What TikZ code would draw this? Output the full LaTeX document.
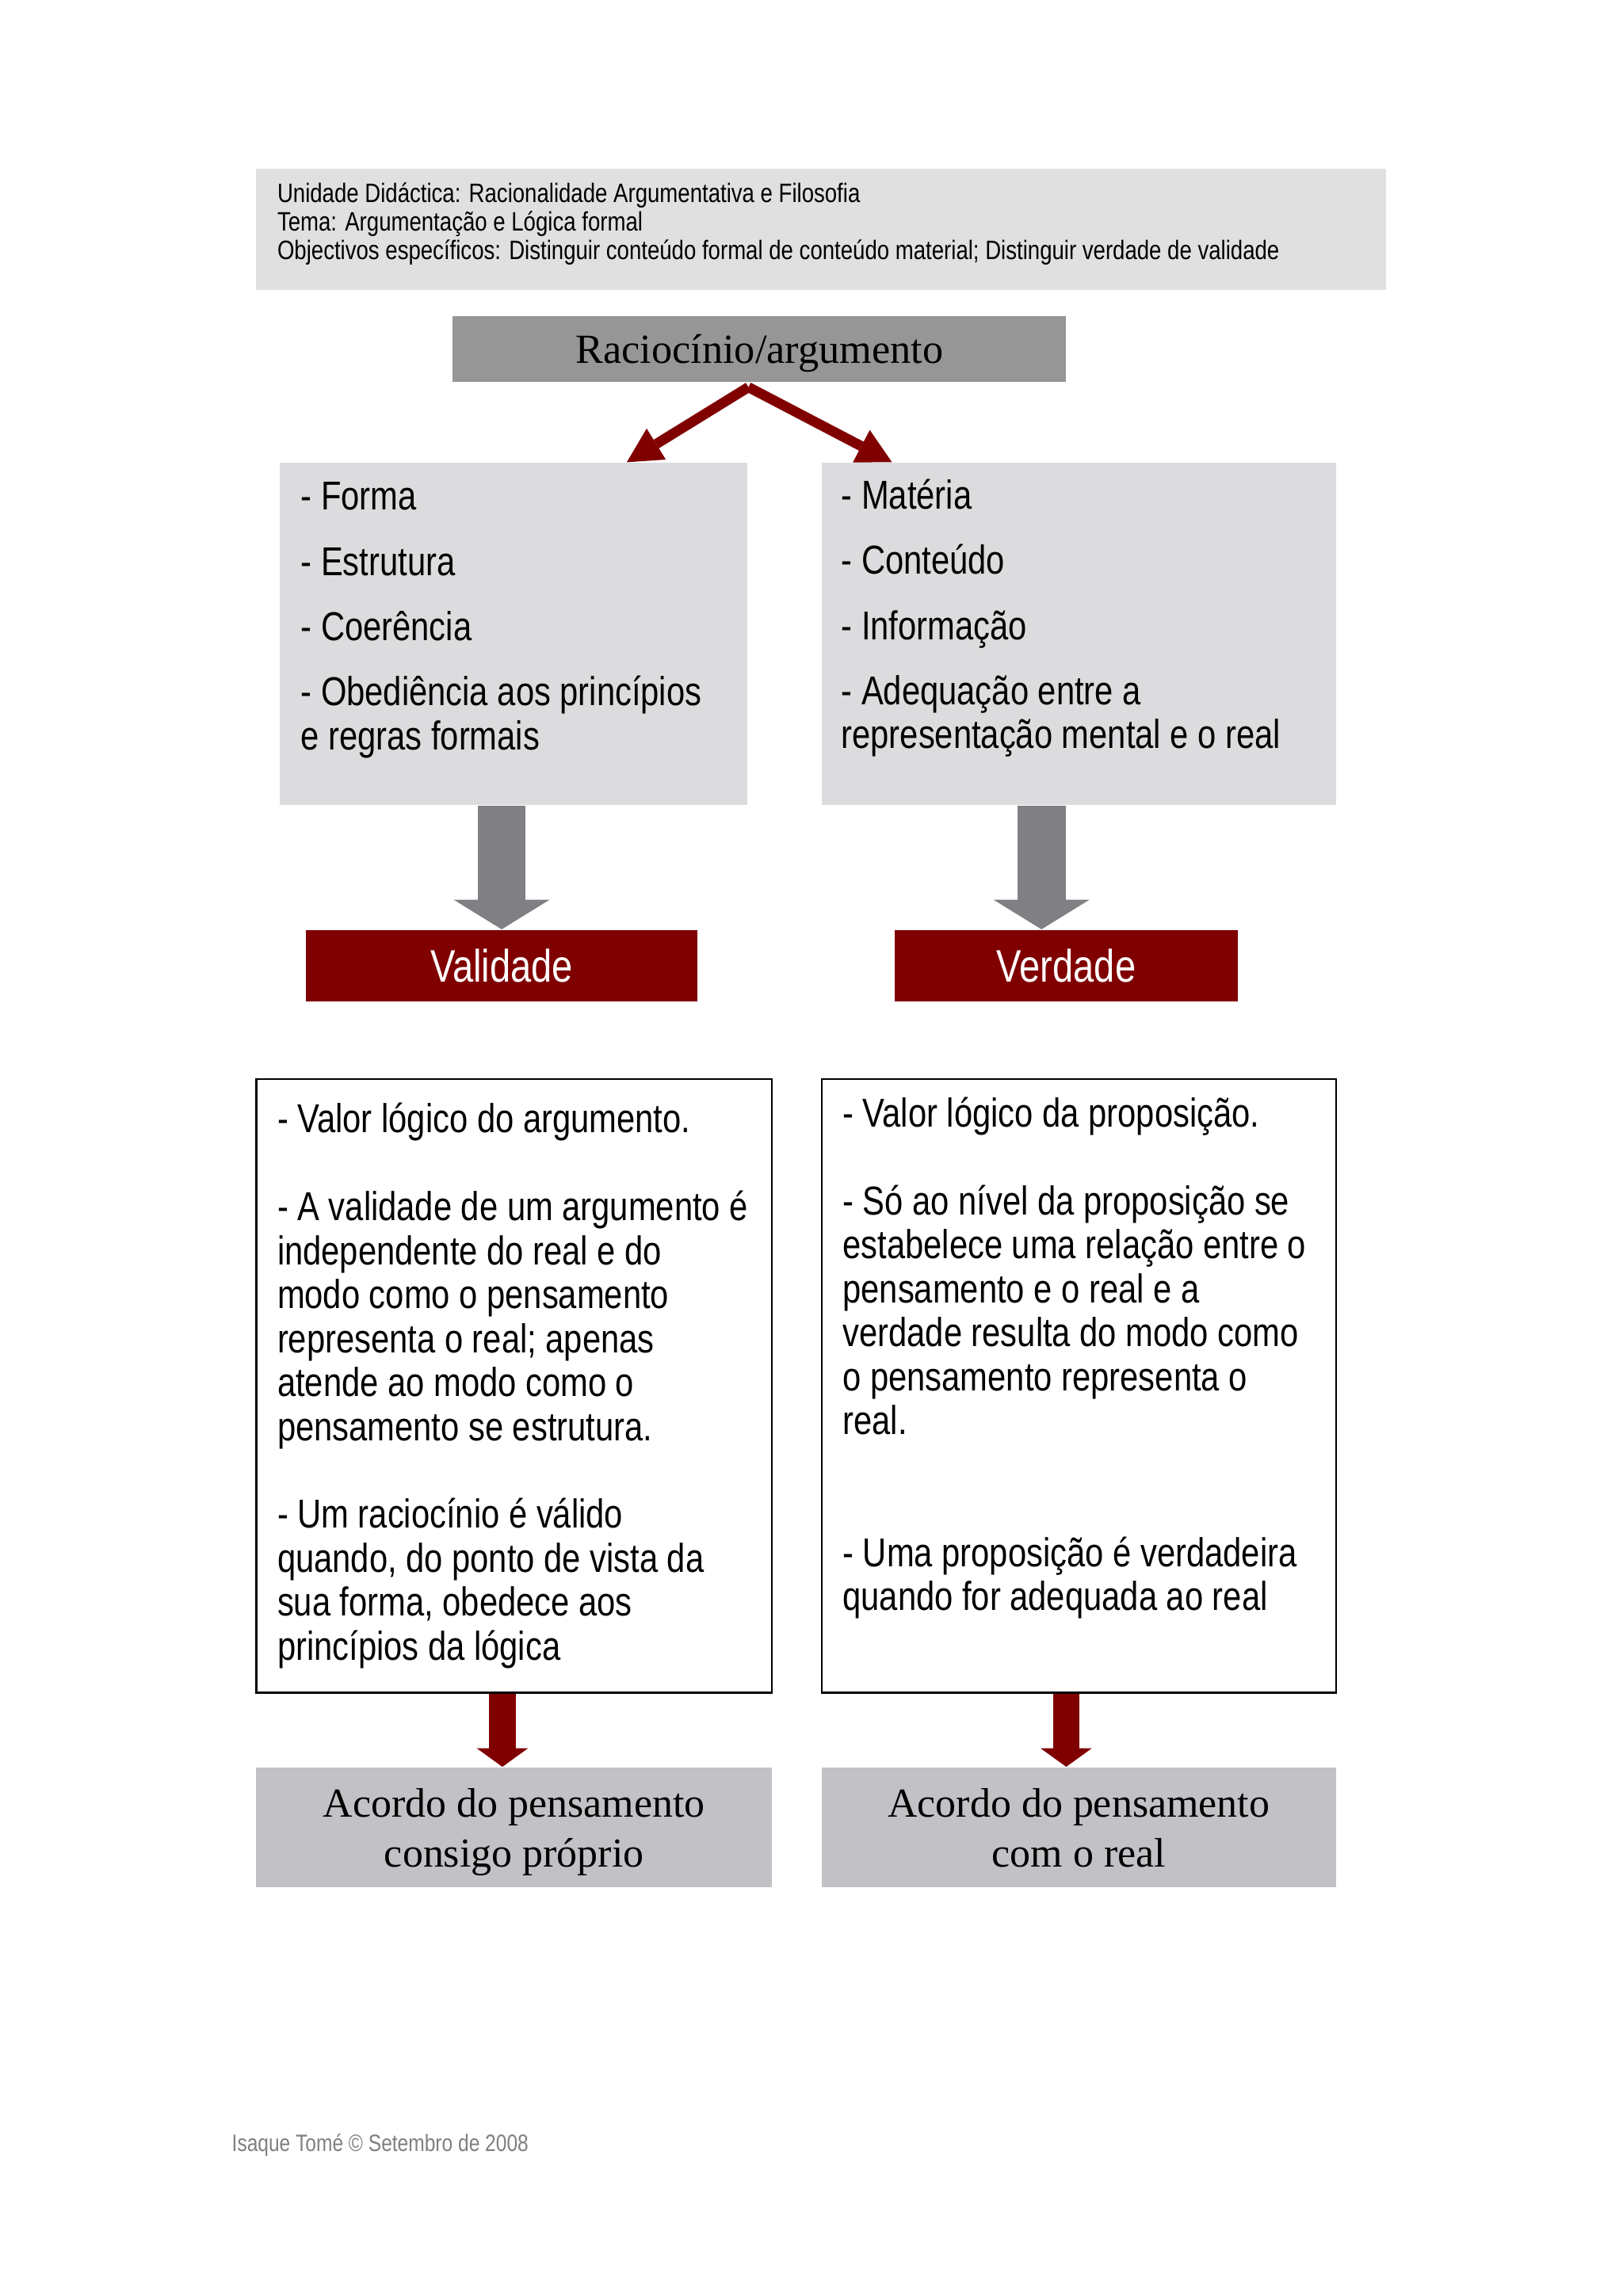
\documentclass[tikz,border=0pt]{standalone}
\usepackage{fontspec}
\setmainfont{Liberation Serif}
\newfontfamily\narrowsans[FakeStretch=0.82]{Liberation Sans}
\usetikzlibrary{arrows.meta}
\definecolor{hdrgrey}{RGB}{224,224,224}
\definecolor{topgrey}{RGB}{150,150,150}
\definecolor{listgrey}{RGB}{220,220,222}
\definecolor{resgrey}{RGB}{194,193,197}
\definecolor{arrowgrey}{RGB}{128,127,131}
\definecolor{wine}{RGB}{128,0,0}
\definecolor{footgrey}{RGB}{128,128,128}

\begin{document}
\begin{tikzpicture}[x=0.5373pt,y=-0.5373pt,
  hdrbox/.style={fill=hdrgrey,minimum width=414.3pt,minimum height=44.6pt,inner sep=0pt},
  topbox/.style={fill=topgrey,minimum width=225.1pt,minimum height=24.2pt,inner sep=0pt,text depth=0pt,font=\fontsize{15.2pt}{18pt}\selectfont},
  listbox/.style={fill=listgrey,minimum height=125.7pt,inner sep=0pt},
  verdict/.style={fill=wine,text=white,minimum height=26.3pt,inner sep=0pt,font=\narrowsans\fontsize{16.7pt}{20pt}\selectfont},
  notebox/.style={draw=black,line width=0.6pt,fill=white,minimum height=225.1pt,inner sep=0pt},
  resbox/.style={fill=resgrey,minimum height=44.1pt,inner sep=0pt,align=center,text depth=0pt,font=\fontsize{15.1pt}{18.3pt}\selectfont},
  bodytext/.style={anchor=north west,inner sep=0pt,align=left,font=\narrowsans\fontsize{14.8pt}{16.12pt}\selectfont},
  forkarrow/.style={line width=3.7pt,wine,-{Triangle[length=12.7pt,width=13.4pt,line width=0pt]}},
  bigdown/.style={line width=17.7pt,arrowgrey,-{Triangle[length=10.9pt,width=35.3pt,line width=0pt]}},
  smalldown/.style={line width=9.7pt,wine,-{Triangle[length=6.8pt,width=18.8pt,line width=0pt]}}]
  \fill[white] (0,0) rectangle (1108,1568);
  \useasboundingbox (0,0) rectangle (1108,1568);
  % header
  \node[hdrbox] (hdr) at (560.5,156.5) {};
  \node[anchor=north west,inner sep=0pt,align=left,font=\narrowsans\fontsize{9.78pt}{10.48pt}\selectfont] (hdrText) at (189,124.5)
    {Unidade Didáctica: Racionalidade Argumentativa e Filosofia\\
     Tema: Argumentação e Lógica formal\\
     Objectivos específicos: Distinguir conteúdo formal de conteúdo material; Distinguir verdade de validade};
  % top
  \node[topbox] (rac) at (518.5,238.5) {Raciocínio/argumento};
  % form / matter
  \node[listbox,minimum width=171.4pt] (forma) at (350.5,433) {};
  \node[listbox,minimum width=188.6pt] (materia) at (736.5,433) {};
  \node[bodytext] (formaText) at (205,329)
    {- Forma\\[7.8pt]- Estrutura\\[7.8pt]- Coerência\\[7.8pt]- Obediência aos princípios\\e regras formais};
  \node[bodytext] (materiaText) at (574,327)
    {- Matéria\\[7.8pt]- Conteúdo\\[7.8pt]- Informação\\[7.8pt]- Adequação entre a\\representação mental e o real};
  \coordinate (fork) at ([shift={(-7.5,3)}]rac.south);
  \draw[forkarrow] (fork) -- ([xshift=41.6pt]forma.north);
  \draw[forkarrow] (fork) -- ([xshift=-68.5pt]materia.north);
  % validity / truth
  \node[verdict,minimum width=143.5pt] (val) at (342.5,659.5) {Validade};
  \node[verdict,minimum width=125.7pt] (ver) at (728,659.5) {Verdade};
  \draw[bigdown] (forma.south -| val.north) -- (val.north);
  \draw[bigdown] ([xshift=-9.1pt]ver.north |- materia.south) -- ([xshift=-9.1pt]ver.north);
  % notes
  \node[notebox,minimum width=189.1pt] (noteL) at (351,946.5) {};
  \node[notebox,minimum width=188.6pt] (noteR) at (736.5,946.5) {};
  \node[bodytext] (noteLText) at (189,753)
    {- Valor lógico do argumento.\\[16.12pt]
     - A validade de um argumento é\\
     independente do real e do\\
     modo como o pensamento\\
     representa o real; apenas\\
     atende ao modo como o\\
     pensamento se estrutura.\\[16.12pt]
     - Um raciocínio é válido\\
     quando, do ponto de vista da\\
     sua forma, obedece aos\\
     princípios da lógica};
  \node[bodytext] (noteRText) at (575,749)
    {- Valor lógico da proposição.\\[16.12pt]
     - Só ao nível da proposição se\\
     estabelece uma relação entre o\\
     pensamento e o real e a\\
     verdade resulta do modo como\\
     o pensamento representa o\\
     real.\\[32.24pt]
     - Uma proposição é verdadeira\\
     quando for adequada ao real};
  % results
  \node[resbox,minimum width=189.1pt] (resL) at (351,1248) {Acordo do pensamento\\consigo próprio};
  \node[resbox,minimum width=188.6pt] (resR) at (736.5,1248) {Acordo do pensamento\\com o real};
  \draw[smalldown] ([xshift=-4.3pt]noteL.south) -- ([xshift=-4.3pt]resL.north);
  \draw[smalldown] ([xshift=-4.6pt]noteR.south) -- ([xshift=-4.6pt]resR.north);
  % footer
  \node[anchor=west,inner sep=0pt,text=footgrey,font=\narrowsans\fontsize{8.7pt}{10pt}\selectfont] (foot) at (158,1465)
    {Isaque Tomé © Setembro de 2008};
\end{tikzpicture}
\end{document}
